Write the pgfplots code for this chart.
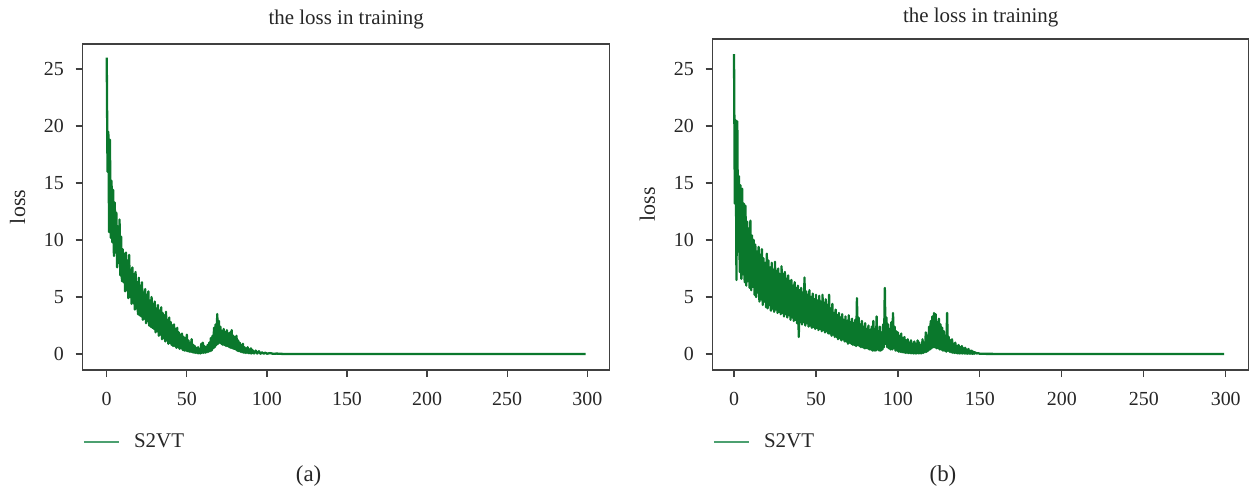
\documentclass[border=0pt]{standalone}
\usepackage{fontspec}
\setmainfont{Liberation Serif}
\usepackage{pgfplots}
\pgfplotsset{compat=1.18}
\definecolor{lossgreen}{RGB}{10,120,44}
\definecolor{leggreen}{RGB}{76,160,112}
\definecolor{axgray}{RGB}{64,64,64}
\pgfplotsset{
  lossaxis/.style={
    scale only axis,
    xmax=314,
    xtick={0,50,...,300}, ytick={0,5,...,25},
    tick align=outside, major tick length=3.5bp,
    xtick pos=bottom, ytick pos=left,
    tick style={axgray, line width=0.6bp},
    axis line style={axgray, line width=0.6bp},
    /pgf/number format/assume math mode=true,
    every tick label/.append style={font=\fontsize{10}{12}\selectfont, text=black!85, inner sep=0pt},
    xticklabel style={anchor=north, yshift=-7.3bp},
    yticklabel style={anchor=east, xshift=-5.7bp},
    title style={font=\fontsize{10.5}{12}\selectfont, text=black!85, anchor=base, at={(axis description cs:0.5,1)}},
    ylabel style={font=\fontsize{11}{12}\selectfont, text=black!85, anchor=center},
    legend style={draw=none, fill=none, inner sep=0pt, outer sep=0pt, anchor=west,
      at={(axis description cs:0,0)}, yshift=-35.85bp,
      nodes={inner sep=0pt, font=\fontsize{10.5}{12}\selectfont, text=black!85},
      column sep=7bp, legend columns=2},
    legend image code/.code={\draw[leggreen, line width=1.2bp] (0bp,0bp) -- (17.5bp,0bp);},
    loss line/.style={lossgreen, line width=1.15bp, line join=round},
  }
}
\begin{document}
\begin{tikzpicture}
\useasboundingbox (0,0) rectangle (625.5bp,247bp);
% ---------------- (a)
\begin{axis}[lossaxis,
  at={(41.35bp,62bp)}, anchor=south west, width=263.5bp, height=163bp,
  xmin=-15, ymin=-1.4, ymax=27.2,
  title={the loss in training}, title style={yshift=4.0bp},
  ylabel={loss}, ylabel style={at={(axis description cs:-0.1233,0.5)}},
]
\addplot[loss line] coordinates {
(0,26.0)(0.5,16.0)(1,19.5)(1.5,10.7)(2,18.8)(2.5,10.2)(3,15.2)(3.5,9.8)(4,14.4)(4.5,8.6)
(5,13.3)(5.5,8.9)(6,12.4)(6.5,7.6)(7,11.2)(7.5,8.0)(8,11.8)(8.5,6.9)(9,10.3)(9.5,6.4)
(10,9.2)(10.5,6.3)(11,8.8)(11.5,5.5)(12,8.9)(12.5,5.6)(13,8.2)(13.5,4.9)(14,8.7)(14.5,5.0)
(15,7.4)(15.5,4.4)(16,7.6)(16.5,4.5)(17,7.0)(17.5,3.9)(18,7.2)(18.5,4.0)(19,6.3)(19.5,3.5)
(20,6.7)(20.5,3.4)(21,6.0)(21.5,3.3)(22,6.3)(22.5,3.0)(23,5.4)(23.5,3.1)(24,5.7)(24.5,2.7)
(25,5.2)(25.5,2.9)(26,5.5)(26.5,2.5)(27,4.7)(27.5,2.4)(28,5.0)(28.5,2.3)(29,4.4)(29.5,2.2)
(30,4.6)(30.5,1.9)(31,4.0)(31.5,2.0)(32,4.3)(32.5,1.6)(33,3.8)(33.5,1.7)(34,4.1)(34.5,1.3)
(35,3.6)(35.5,1.4)(36,3.4)(36.5,1.1)(37,3.7)(37.5,1.2)(38,3.0)(38.5,0.9)(39,3.2)(39.5,1.0)
(40,2.8)(40.5,0.8)(41,2.5)(41.5,0.7)(42,2.6)(42.5,0.7)(43,2.2)(43.5,0.55)(44,2.3)(44.5,0.6)
(45,1.9)(45.5,0.45)(46,1.7)(46.5,0.5)(47,1.8)(47.5,0.35)(48,1.5)(48.5,0.3)(49,1.4)(49.5,0.3)
(50,1.7)(50.5,0.25)(51,1.2)(51.5,0.2)(52,1.0)(52.5,0.2)(53,1.3)(53.5,0.15)(54,0.8)(54.5,0.12)
(55,0.7)(55.5,0.1)(56,0.5)(56.5,0.08)(57,0.6)(57.5,0.06)(58,0.4)(58.5,0.05)(59,0.9)(59.5,0.1)
(60,1.0)(60.5,0.1)(61,0.7)(61.5,0.12)(62,0.6)(62.5,0.15)(63,0.8)(63.5,0.2)(64,1.0)(64.5,0.25)
(65,1.4)(65.5,0.3)(66,1.6)(66.5,0.5)(67,2.3)(67.5,0.6)(68,2.6)(68.5,0.8)(69,3.5)(69.5,0.9)
(70,2.9)(70.5,1.0)(71,2.4)(71.5,0.9)(72,2.0)(72.5,0.8)(73,2.2)(73.5,0.8)(74,1.9)(74.5,0.7)
(75,2.1)(75.5,0.7)(76,1.8)(76.5,0.6)(77,1.9)(77.5,0.55)(78,2.1)(78.5,0.5)(79,1.6)(79.5,0.45)
(80,1.5)(80.5,0.4)(81,1.6)(81.5,0.3)(82,1.2)(82.5,0.25)(83,1.0)(83.5,0.2)(84,0.8)(84.5,0.15)
(85,0.9)(85.5,0.12)(86,0.6)(86.5,0.1)(87,0.5)(87.5,0.1)(88,0.6)(88.5,0.08)(89,0.4)(89.5,0.06)
(90,0.5)(90.5,0.05)(91,0.35)(92,0.05)(93,0.3)(94,0.04)(95,0.25)(96,0.03)(97,0.15)(98,0.03)
(99,0.12)(100,0.03)(102,0.08)(104,0.02)(106,0.04)(110,0.01)(120,0.01)(200,0.0)(299,0.0)
};
\addlegendentry{S2VT}
\end{axis}
% ---------------- (b)
\begin{axis}[lossaxis,
  at={(356.35bp,62bp)}, anchor=south west, width=268bp, height=165.5bp,
  xmin=-13, ymin=-1.4, ymax=27.63,
  title={the loss in training}, title style={yshift=2.1bp},
  ylabel={loss}, ylabel style={at={(axis description cs:-0.1218,0.5)}},
]
\addplot[loss line] coordinates {
(0,26.3)(0.5,13.2)(1,20.5)(1.5,6.5)(2,20.4)(2.5,9.0)(3,15.6)(3.5,7.2)(4,14.8)(4.5,6.6)
(5,14.5)(5.5,7.0)(6,13.2)(6.5,6.3)(7,13.0)(7.5,6.0)(8,11.6)(8.5,6.4)(9,11.0)(9.5,5.8)
(10,11.7)(10.5,5.6)(11,10.4)(11.5,5.9)(12,10.0)(12.5,5.2)(13,9.6)(13.5,5.0)(14,9.0)(14.5,5.4)
(15,9.4)(15.5,4.6)(16,8.7)(16.5,4.8)(17,9.2)(17.5,4.3)(18,8.4)(18.5,4.6)(19,8.0)(19.5,4.1)
(20,8.8)(20.5,4.0)(21,8.2)(21.5,4.3)(22,7.6)(22.5,3.8)(23,8.0)(23.5,4.0)(24,7.4)(24.5,3.7)
(25,8.1)(25.5,3.9)(26,7.3)(26.5,3.6)(27,7.5)(27.5,3.7)(28,7.0)(28.5,3.5)(29,7.7)(29.5,3.6)
(30,7.0)(30.5,3.3)(31,7.2)(31.5,3.5)(32,6.6)(32.5,3.2)(33,6.9)(33.5,3.4)(34,6.4)(34.5,3.0)
(35,6.5)(35.5,3.2)(36,6.0)(36.5,2.9)(37,6.3)(37.5,3.0)(38,5.8)(38.5,2.7)(39,6.0)(39.5,1.5)
(40,5.6)(40.5,2.8)(41,5.8)(41.5,2.6)(42,5.4)(42.5,2.8)(43,6.7)(43.5,2.5)(44,5.5)(44.5,2.7)
(45,5.2)(45.5,2.4)(46,5.6)(46.5,2.5)(47,5.0)(47.5,2.3)(48,5.3)(48.5,2.4)(49,4.8)(49.5,2.2)
(50,5.2)(50.5,2.3)(51,4.7)(51.5,2.1)(52,5.1)(52.5,2.2)(53,4.6)(53.5,2.0)(54,5.2)(54.5,2.1)
(55,4.5)(55.5,1.9)(56,4.8)(56.5,2.0)(57,4.3)(57.5,1.8)(58,5.2)(58.5,1.8)(59,4.0)(59.5,1.6)
(60,4.4)(60.5,1.7)(61,3.6)(61.5,1.5)(62,3.9)(62.5,1.5)(63,3.4)(63.5,1.3)(64,3.6)(64.5,1.4)
(65,3.2)(65.5,1.2)(66,3.5)(66.5,1.3)(67,3.0)(67.5,1.1)(68,3.3)(68.5,1.1)(69,2.9)(69.5,0.9)
(70,3.4)(70.5,1.0)(71,2.8)(71.5,0.9)(72,3.1)(72.5,0.8)(73,2.7)(73.5,0.8)(74,3.0)(74.5,0.7)
(75,4.9)(75.5,0.8)(76,3.2)(76.5,0.7)(77,2.6)(77.5,0.6)(78,2.9)(78.5,0.6)(79,2.4)(79.5,0.5)
(80,2.7)(80.5,0.5)(81,2.2)(81.5,0.5)(82,2.5)(82.5,0.4)(83,2.1)(83.5,0.4)(84,2.4)(84.5,0.3)
(85,2.9)(85.5,0.3)(86,2.2)(86.5,0.3)(87,3.3)(87.5,0.4)(88,2.0)(88.5,0.3)(89,2.4)(89.5,0.3)
(90,1.9)(90.5,0.4)(91,2.6)(91.5,0.6)(92,5.8)(92.5,0.9)(93,3.2)(93.5,0.6)(94,2.6)(94.5,0.5)
(95,2.2)(95.5,0.4)(96,2.8)(96.5,0.4)(97,3.6)(97.5,0.5)(98,2.4)(98.5,0.3)(99,2.0)(99.5,0.3)
(100,1.9)(100.5,0.2)(101,1.6)(101.5,0.2)(102,1.8)(102.5,0.15)(103,1.4)(103.5,0.15)(104,1.5)(104.5,0.1)
(105,1.2)(105.5,0.1)(106,1.3)(106.5,0.08)(107,1.0)(107.5,0.07)(108,1.2)(108.5,0.06)(109,0.9)(109.5,0.05)
(110,1.1)(110.5,0.05)(111,0.9)(111.5,0.05)(112,1.2)(112.5,0.06)(113,1.0)(113.5,0.05)(114,0.8)(114.5,0.06)
(115,1.3)(115.5,0.1)(116,1.0)(116.5,0.15)(117,1.9)(117.5,0.2)(118,1.6)(118.5,0.3)(119,2.4)(119.5,0.4)
(120,2.9)(120.5,0.5)(121,3.3)(121.5,0.6)(122,3.6)(122.5,0.6)(123,3.5)(123.5,0.5)(124,2.8)(124.5,0.5)
(125,3.1)(125.5,0.4)(126,2.6)(126.5,0.4)(127,2.3)(127.5,0.3)(128,2.0)(128.5,0.3)(129,1.6)(129.5,0.2)
(130,3.6)(130.5,0.3)(131,1.5)(131.5,0.2)(132,1.2)(132.5,0.15)(133,1.3)(133.5,0.1)(134,0.9)(134.5,0.1)
(135,1.0)(135.5,0.08)(136,0.7)(136.5,0.06)(137,0.8)(137.5,0.05)(138,0.6)(138.5,0.05)(139,0.7)(139.5,0.04)
(140,0.5)(140.5,0.04)(141,0.55)(141.5,0.03)(142,0.4)(142.5,0.03)(143,0.45)(143.5,0.03)(144,0.3)(144.5,0.02)
(145,0.3)(145.5,0.02)(146,0.2)(146.5,0.02)(147,0.15)(148,0.05)(149,0.08)(150,0.02)(160,0.01)(200,0.0)(299,0.0)
};
\addlegendentry{S2VT}
\end{axis}
\node[font=\fontsize{11.5}{13}\selectfont, text=black!85] at (154.3bp,9bp) {(a)};
\node[font=\fontsize{11.5}{13}\selectfont, text=black!85] at (471.5bp,9bp) {(b)};
\end{tikzpicture}
\end{document}
